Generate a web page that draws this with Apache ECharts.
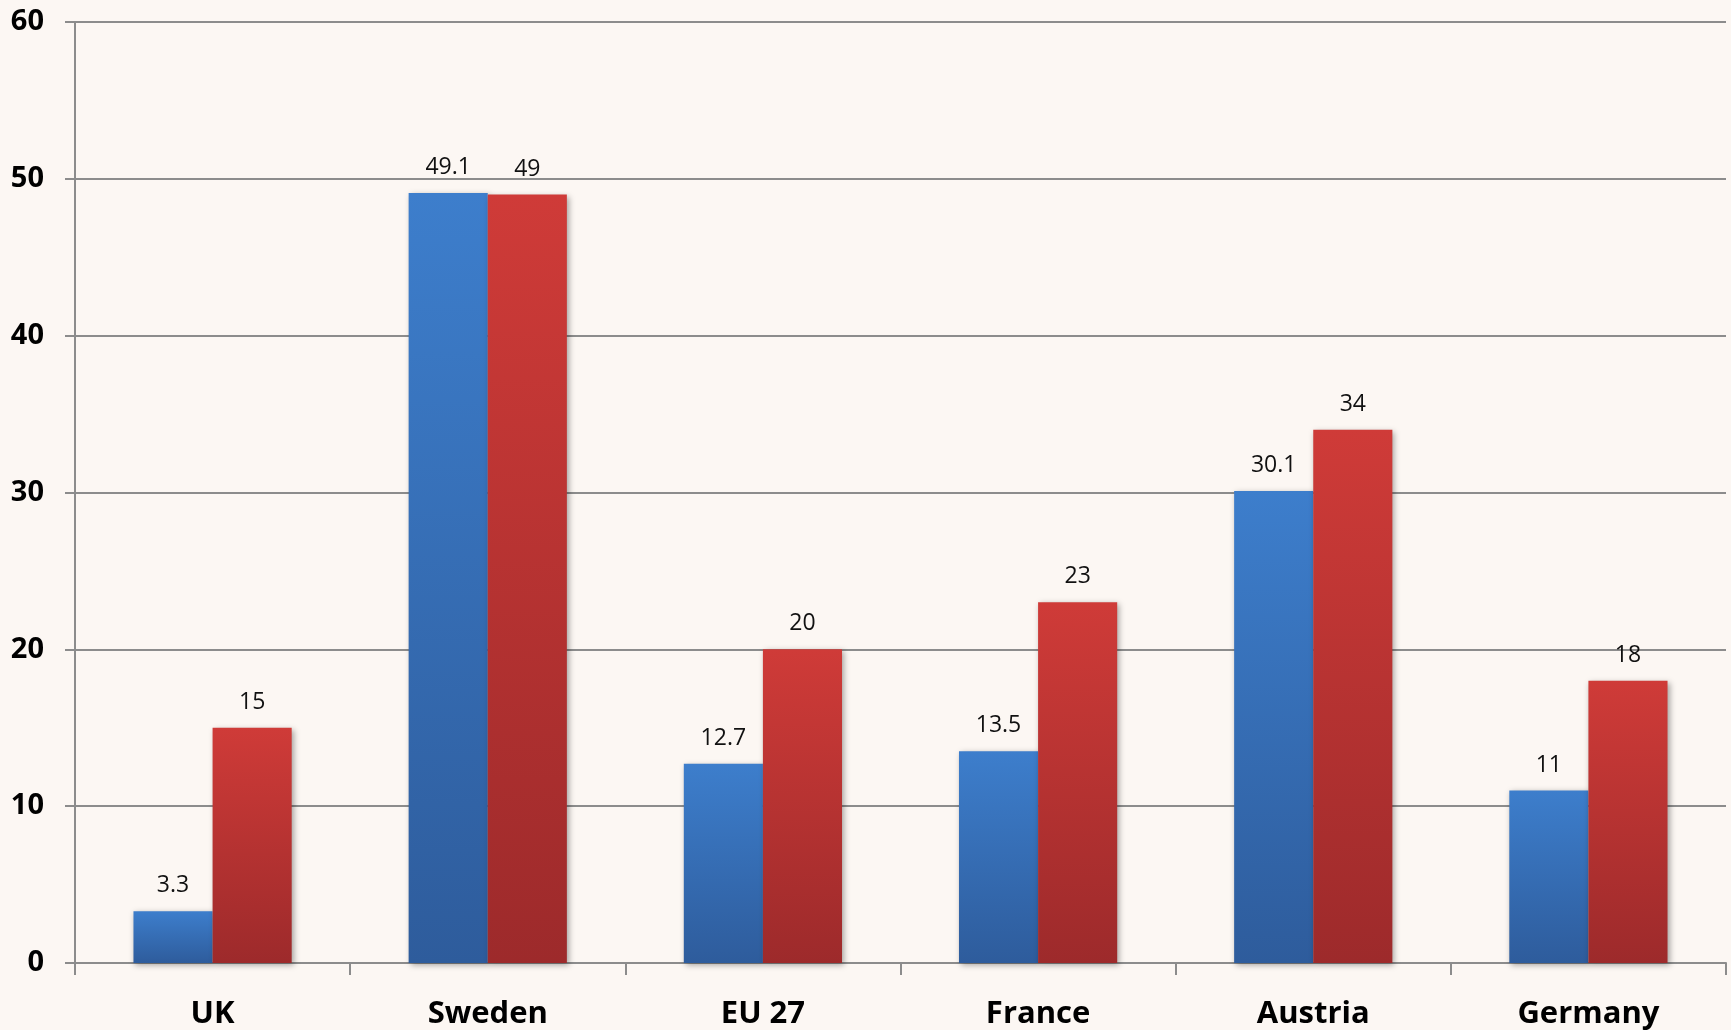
<!DOCTYPE html>
<html>
<head>
<meta charset="utf-8">
<script src="https://cdn.jsdelivr.net/npm/echarts@6/dist/echarts.min.js"></script>
<style>
  html, body { margin: 0; padding: 0; background: #FCF7F3; }
  #chart { width: 1731px; height: 1030px; }
</style>
</head>
<body>
<div id="chart"></div>
<script>
// Categories and the two value series
const categories = ['UK', 'Sweden', 'EU 27', 'France', 'Austria', 'Germany'];
const seriesA = [3.3, 49.1, 12.7, 13.5, 30.1, 11];
const seriesB = [15, 49, 20, 23, 34, 18];
const yTicks = { min: 0, max: 60, interval: 10 };

const FONT = '"Open Sans", "Noto Sans", sans-serif';

function grad(top, bottom) {
  return new echarts.graphic.LinearGradient(0, 0, 0, 1, [
    { offset: 0, color: top },
    { offset: 1, color: bottom }
  ]);
}

const labelStyle = {
  show: true,
  position: 'top',
  distance: 14,
  color: '#111',
  fontFamily: FONT,
  fontSize: 23
};

const barShadow = {
  shadowColor: 'rgba(0,0,0,0.35)',
  shadowBlur: 6,
  shadowOffsetX: 2,
  shadowOffsetY: 2
};

const chart = echarts.init(document.getElementById('chart'), null, { renderer: 'canvas' });
chart.setOption({
  backgroundColor: '#FCF7F3',
  animation: false,
  grid: { left: 75, right: 5, top: 22, bottom: 66, containLabel: false },
  xAxis: {
    type: 'category',
    data: categories,
    axisLine: { lineStyle: { color: '#8C8C8C', width: 2 } },
    axisTick: { show: true, length: 12, lineStyle: { color: '#8C8C8C', width: 2 } },
    axisLabel: {
      margin: 36,
      color: '#000',
      fontFamily: FONT,
      fontWeight: 'bold',
      fontSize: 31
    }
  },
  yAxis: {
    type: 'value',
    min: yTicks.min,
    max: yTicks.max,
    interval: yTicks.interval,
    axisLine: { show: true, lineStyle: { color: '#8C8C8C', width: 2 } },
    axisTick: { show: true, length: 10, lineStyle: { color: '#8C8C8C', width: 2 } },
    splitLine: { show: true, lineStyle: { color: '#8C8C8C', width: 2 } },
    axisLabel: {
      margin: 31,
      color: '#000',
      fontFamily: FONT,
      fontWeight: 'bold',
      fontSize: 29
    }
  },
  series: [
    {
      type: 'bar',
      data: seriesA,
      barGap: '0%',
      barCategoryGap: '42.5%',
      itemStyle: Object.assign({ color: grad('#3D7ECC', '#2E5C9C') }, barShadow),
      label: labelStyle
    },
    {
      type: 'bar',
      data: seriesB,
      barGap: '0%',
      barCategoryGap: '42.5%',
      itemStyle: Object.assign({ color: grad('#CF3B38', '#9D2A2B') }, barShadow),
      label: labelStyle
    }
  ]
});
</script>
</body>
</html>
